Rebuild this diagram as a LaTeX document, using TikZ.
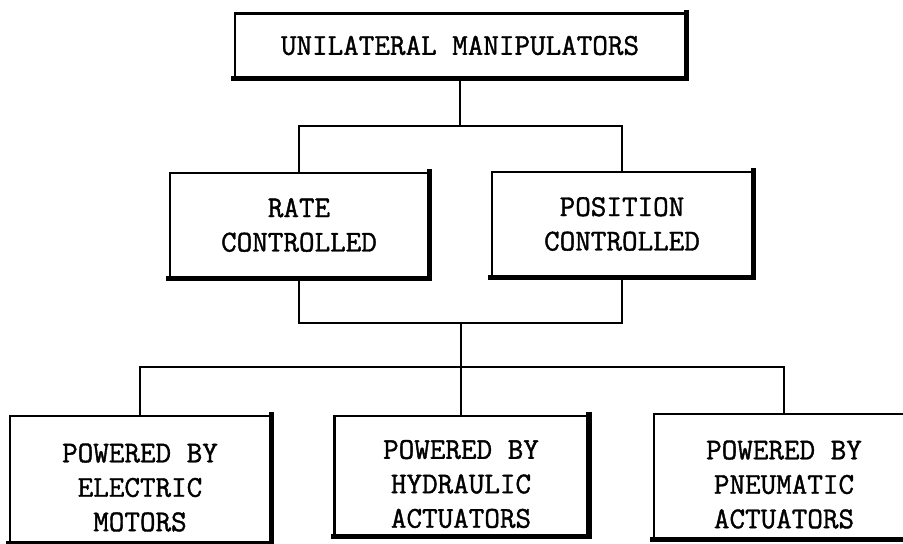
\documentclass[tikz,border=0pt]{standalone}
\usepackage{fontspec}
\usepackage{xcolor}
\usepackage{tikz}
\usetikzlibrary{positioning}

\newfontfamily\typerfont[FakeBold=1.3]{Latin Modern Mono}
\newcommand\lowerline{\rule{0pt}{25.5pt}}

\begin{document}
\begin{tikzpicture}[
    x=0.025cm, y=-0.025cm,
    unit/.style={rectangle, draw, line width=1.9pt, align=center, inner sep=0pt,
        font=\fontsize{21.5}{24.5}\selectfont\typerfont\bfseries},
    rimline/.style={line width=3.6pt, line cap=rect},
    link/.style={line width=2.1pt}
]
    \useasboundingbox (0,0) rectangle (903,544);
    \clip (0,0) rectangle (903,544);

    \node[unit, minimum width=11.25cm, minimum height=1.6cm] (manip) at (460,45.5)
        {UNILATERAL MANIPULATORS};

    \node[unit, minimum width=6.45cm, minimum height=2.6cm] (rate) at (299,225)
        {RATE\\CONTROLLED};
    \node[unit, minimum width=6.5cm, minimum height=2.6cm] (position) at (622,224)
        {POSITION\\CONTROLLED};

    \node[unit, minimum width=6.5cm, minimum height=3.15cm] (electric) at (140,479)
        {\lowerline POWERED BY\\ELECTRIC\\MOTORS};
    \node[unit, minimum width=6.33cm, minimum height=2.98cm] (hydraulic) at (461,475.5)
        {\lowerline POWERED BY\\HYDRAULIC\\ACTUATORS};
    \node[unit, minimum width=6.5cm, minimum height=3.1cm] (pneumatic) at (784,476)
        {\lowerline POWERED BY\\PNEUMATIC\\ACTUATORS};

    % heavy right and bottom edges
    \foreach \n in {manip,rate,position,electric,hydraulic,pneumatic}
        \draw[rimline] (\n.north east) -- (\n.south east) -- (\n.south west);

    \coordinate (upbus) at (460,126);
    \coordinate (midbus) at (461,323);
    \coordinate (lowbus) at (461,367);

    \draw[link] (manip.south) -- (upbus);
    \draw[link] (rate.north) |- (upbus) -| (position.north);
    \draw[link] (rate.south) |- (midbus) -| (position.south);
    \draw[link] (midbus) -- (hydraulic.north);
    \draw[link] (electric.north) |- (lowbus) -| (pneumatic.north);
\end{tikzpicture}
\end{document}
